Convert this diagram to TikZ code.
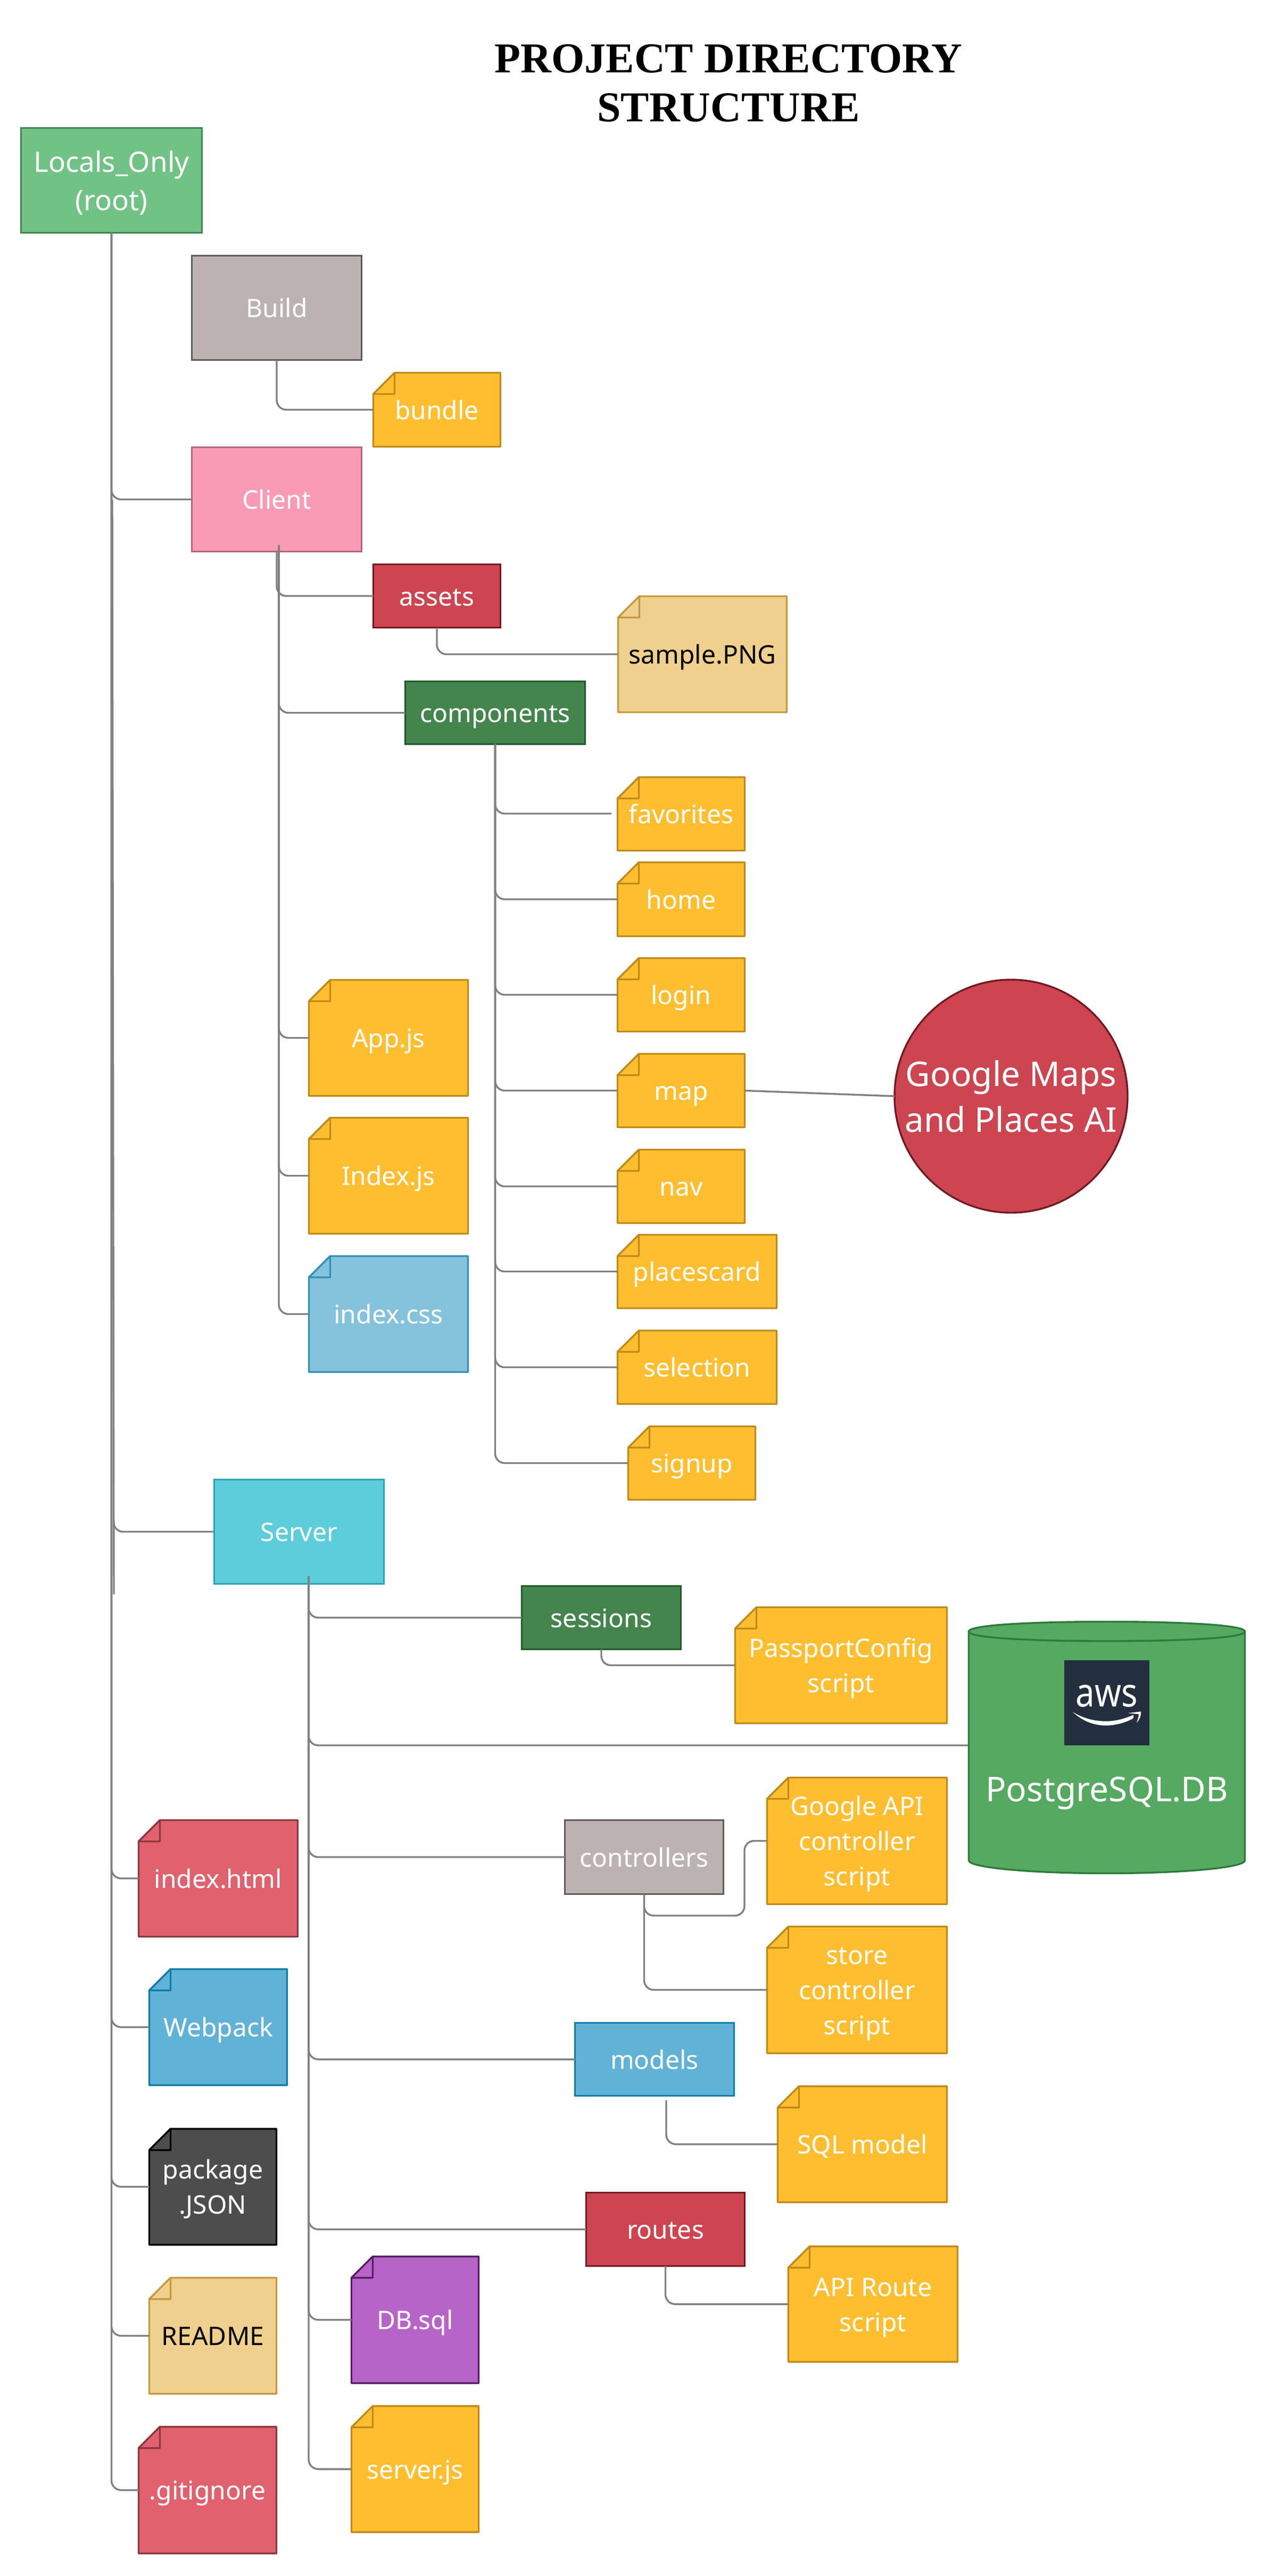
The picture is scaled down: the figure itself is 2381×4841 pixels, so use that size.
\documentclass[tikz,border=0pt]{standalone}
\usepackage{fontspec}
\setmainfont{Noto Sans}
\newfontfamily\titlefont{Liberation Serif}
\usetikzlibrary{calc}
\definecolor{connc}{HTML}{808080}
\newcommand\st{\rule{0pt}{24pt}\rule[-6pt]{0pt}{6pt}}
\newcommand\stb{\rule{0pt}{26pt}\rule[-6pt]{0pt}{6pt}}
\newcommand\stc{\rule{0pt}{31pt}\rule[-7pt]{0pt}{7pt}}
\tikzset{
  x=0.5pt,y=-0.5pt,
  boxbase/.style={rectangle,inner sep=0pt,outer sep=0pt,align=center,text=white,line width=1.7pt,font=\fontsize{24}{33}\selectfont},
  foldline/.style={line width=1.7pt,line join=round},
  conn/.style={draw=connc,line width=1.7pt,rounded corners=9pt},
  rootcol/.style={fill={rgb,255:red,113;green,194;blue,133},draw={rgb,255:red,63;green,134;blue,82}},
  graycol/.style={fill={rgb,255:red,188;green,178;blue,177},draw={rgb,255:red,94;green,90;blue,90}},
  pinkcol/.style={fill={rgb,255:red,249;green,155;blue,180},draw={rgb,255:red,183;green,99;blue,126}},
  redcol/.style={fill={rgb,255:red,204;green,69;blue,80},draw={rgb,255:red,115;green,24;blue,34}},
  tancol/.style={fill={rgb,255:red,240;green,208;blue,142},draw={rgb,255:red,196;green,154;blue,63}},
  dgreencol/.style={fill={rgb,255:red,68;green,132;blue,77},draw={rgb,255:red,30;green,90;blue,41}},
  yelcol/.style={fill={rgb,255:red,254;green,190;blue,47},draw={rgb,255:red,191;green,138;blue,26}},
  lbluecol/.style={fill={rgb,255:red,133;green,194;blue,219},draw={rgb,255:red,52;green,143;blue,179}},
  cyancol/.style={fill={rgb,255:red,93;green,205;blue,219},draw={rgb,255:red,43;green,164;blue,178}},
  bluecol/.style={fill={rgb,255:red,96;green,178;blue,214},draw={rgb,255:red,15;green,124;blue,171}},
  coralcol/.style={fill={rgb,255:red,225;green,97;blue,110},draw={rgb,255:red,139;green,56;blue,64}},
  darkcol/.style={fill={rgb,255:red,77;green,77;blue,77},draw=black},
  purplecol/.style={fill={rgb,255:red,183;green,100;blue,200},draw={rgb,255:red,86;green,31;blue,102}},
  dbcol/.style={fill={rgb,255:red,85;green,169;blue,97},draw={rgb,255:red,46;green,122;blue,60}},
}
% name, x0, y0, x1, y1, colour style, text
\newcommand{\bx}[7]{%
  \pgfmathsetmacro\bxcx{(#2+#4)/2}\pgfmathsetmacro\bxcy{(#3+#5)/2}%
  \pgfmathsetmacro\bxw{(#4-#2-3)*0.5}\pgfmathsetmacro\bxh{(#5-#3-3)*0.5}%
  \node[boxbase,#6,minimum width=\bxw pt,minimum height=\bxh pt] (#1) at (\bxcx,\bxcy) {#7};}
\newcommand{\nt}[7]{%
  \pgfmathsetmacro\bxcx{(#2+#4)/2}\pgfmathsetmacro\bxcy{(#3+#5)/2}%
  \pgfmathsetmacro\bxw{(#4-#2-3)*0.5}\pgfmathsetmacro\bxh{(#5-#3-3)*0.5}%
  \pgfmathsetmacro\xa{#2+1.5}\pgfmathsetmacro\ya{#3+1.5}%
  \pgfmathsetmacro\xb{#4-1.5}\pgfmathsetmacro\yb{#5-1.5}%
  \pgfmathsetmacro\fx{#2+41.5}\pgfmathsetmacro\fy{#3+41.5}%
  \draw[foldline,#6] (\xa,\fy) -- (\fx,\ya) -- (\xb,\ya) -- (\xb,\yb) -- (\xa,\yb) -- cycle;
  \draw[foldline,#6] (\xa,\fy) -- (\fx,\fy) -- (\fx,\ya) -- cycle;
  \node[boxbase,minimum width=\bxw pt,minimum height=\bxh pt] (#1) at (\bxcx,\bxcy) {#7};}
\begin{document}
\begin{tikzpicture}
\useasboundingbox (0,0) rectangle (2381,4841);
\fill[white] (0,0) rectangle (2381,4841);
% title
\node[inner sep=0pt,align=center,text=black,font=\titlefont\bfseries\fontsize{40}{46}\selectfont] (title) at (1369,156) {PROJECT DIRECTORY\\STRUCTURE};
% folders
\pgfmathsetmacro\rw{340*0.5}\pgfmathsetmacro\rh{197*0.5}
\node[boxbase,rootcol,minimum width=\rw pt,minimum height=\rh pt,font=\fontsize{26.5}{36}\selectfont] (root) at (209.5,339) {\stb Locals\_Only\\\stb (root)};
\bx{build}{359}{479}{681}{678}{graycol}{\st Build}
\nt{bundle}{700}{699}{942}{841}{yelcol}{\st bundle}
\bx{client}{359}{839}{681}{1038}{pinkcol}{\st Client}
\bx{assets}{700}{1059}{942}{1181}{redcol}{\st assets}
\nt{sample}{1160}{1119}{1480}{1340}{tancol}{\color{black}\st sample.PNG}
\bx{components}{760}{1279}{1101}{1400}{dgreencol}{\st components}
\nt{favorites}{1159}{1459}{1401}{1600}{yelcol}{\st favorites}
\nt{home}{1159}{1619}{1401}{1761}{yelcol}{\st home}
\nt{login}{1159}{1799}{1401}{1940}{yelcol}{\st login}
\nt{map}{1159}{1979}{1401}{2120}{yelcol}{\st map}
\nt{nav}{1159}{2159}{1401}{2300}{yelcol}{\st nav}
\nt{placescard}{1159}{2319}{1461}{2460}{yelcol}{\st placescard}
\nt{selection}{1159}{2499}{1461}{2640}{yelcol}{\st selection}
\nt{signup}{1179}{2679}{1421}{2820}{yelcol}{\st signup}
\nt{appjs}{579}{1840}{881}{2061}{yelcol}{\st App.js}
\nt{indexjs}{579}{2099}{881}{2320}{yelcol}{\st Index.js}
\nt{indexcss}{579}{2359}{881}{2580}{lbluecol}{\st index.css}
\node[boxbase,redcol,circle,minimum size=219pt,font=\fontsize{32}{43}\selectfont] (maps) at (1900,2060) {\stc Google Maps\\\stc and Places AI};
\bx{server}{401}{2779}{723}{2978}{cyancol}{\st Server}
\bx{sessions}{979}{2979}{1281}{3101}{dgreencol}{\st sessions}
\nt{passport}{1380}{3019}{1781}{3240}{yelcol}{\st PassportConfig\\\st script}
\bx{controllers}{1060}{3419}{1361}{3561}{graycol}{\st controllers}
\nt{google}{1440}{3339}{1781}{3580}{yelcol}{\st Google API\\\st controller\\\st script}
\nt{store}{1440}{3619}{1781}{3860}{yelcol}{\st store\\\st controller\\\st script}
\bx{models}{1079}{3800}{1381}{3940}{bluecol}{\st models}
\nt{sqlmodel}{1460}{3919}{1781}{4140}{yelcol}{\st SQL model}
\bx{routes}{1100}{4119}{1401}{4260}{redcol}{\st routes}
\nt{apiroute}{1480}{4220}{1801}{4440}{yelcol}{\st API Route\\\st script}
\nt{indexhtml}{259}{3419}{561}{3641}{coralcol}{\st index.html}
\nt{webpack}{279}{3699}{541}{3920}{bluecol}{\st Webpack}
\nt{package}{279}{3999}{521}{4220}{darkcol}{\st package\\\st .JSON}
\nt{readme}{279}{4279}{521}{4500}{tancol}{\color{black}\st README}
\nt{gitignore}{259}{4559}{521}{4800}{coralcol}{\st .gitignore}
\nt{dbsql}{659}{4239}{901}{4480}{purplecol}{\st DB.sql}
\nt{serverjs}{659}{4520}{901}{4760}{yelcol}{\st server.js}
% database cylinder
\draw[dbcol,line width=1.7pt] (1820.5,3066) -- (1820.5,3496) .. controls (1820.5,3511) and (1950,3520.5) .. (2080,3520.5) .. controls (2210,3520.5) and (2339.5,3511) .. (2339.5,3496) -- (2339.5,3066) -- cycle;
\draw[dbcol,line width=1.7pt] (1820.5,3066) .. controls (1820.5,3053) and (1950,3047.5) .. (2080,3047.5) .. controls (2210,3047.5) and (2339.5,3053) .. (2339.5,3066) .. controls (2339.5,3079) and (2210,3084) .. (2080,3084) .. controls (1950,3084) and (1820.5,3079) .. (1820.5,3066) -- cycle;
\node[rectangle,inner sep=0pt,outer sep=0pt,fill={rgb,255:red,35;green,47;blue,62},minimum size=80pt] (awsbox) at (2080,3200) {};
\node[inner sep=0pt,anchor=base,text=white,font=\fontsize{37.5}{40}\selectfont] (awstext) at (2080,3207) {\scalebox{0.85}[1]{aws}};
\begin{scope}[shift={(1980,3100)},x=0.1667pt,y=-0.1667pt]
  \fill[white] (108,352) .. controls (180,395) and (240,402) .. (290,404) .. controls (350,404) and (400,390) .. (450,368) .. controls (452,378) and (450,384) .. (448,388) .. controls (400,415) and (340,428) .. (290,428) .. controls (220,426) and (160,400) .. (108,352) -- cycle;
  \fill[white] (420,358) -- (492,349) .. controls (494,375) and (480,400) .. (468,413) .. controls (474,395) and (480,378) .. (480,364) -- cycle;
\end{scope}
\node[inner sep=0pt,text=white,font=\fontsize{32}{43}\selectfont] (dbtext) at (2080,3362) {\stc PostgreSQL.DB};
% free connector ends
\coordinate (rootb) at (211,939);
\coordinate (rootm) at (213.5,2860);
\coordinate (roote) at (214,2996);
\coordinate (ctrunk) at (524,1024);
\coordinate (strunk) at (580,2962);
\coordinate (favend) at (1149,1529);
\coordinate (dbin) at (1819,3280);
\coordinate (ctrlg) at (1399,3600);
\coordinate (modstart) at (1252,3947);
% root branches
\draw[conn] (root.south) |- (client.west);
\draw[conn] (root.south) |- (indexhtml.west);
\draw[conn] (root.south) |- (webpack.west);
\draw[conn] (root.south) |- (package.west);
\draw[conn] (root.south) |- (readme.west);
\draw[conn] (root.south) |- (gitignore.west);
\draw[conn] (rootm) |- (server.west);
\draw[conn] (rootb) -- (roote);
% build, client
\draw[conn] (build.south) |- (bundle.west);
\draw[conn] (client.south) |- (assets.west);
\draw[conn] (assets.south) |- (sample.west);
\draw[conn] (ctrunk) |- (components.west);
\draw[conn] (ctrunk) |- (appjs.west);
\draw[conn] (ctrunk) |- (indexjs.west);
\draw[conn] (ctrunk) |- (indexcss.west);
% components
\draw[conn] (components.south) |- (favend);
\draw[conn] (components.south) |- (home.west);
\draw[conn] (components.south) |- (login.west);
\draw[conn] (components.south) |- (map.west);
\draw[conn] (components.south) |- (nav.west);
\draw[conn] (components.south) |- (placescard.west);
\draw[conn] (components.south) |- (selection.west);
\draw[conn] (components.south) |- (signup.west);
\draw[conn] (map.east) -- (maps.west);
% server
\draw[conn] (strunk) |- (sessions.west);
\draw[conn] (strunk) |- (dbin);
\draw[conn] (strunk) |- (controllers.west);
\draw[conn] (strunk) |- (models.west);
\draw[conn] (strunk) |- (routes.west);
\draw[conn] (strunk) |- (dbsql.west);
\draw[conn] (strunk) |- (serverjs.west);
\draw[conn] (sessions.south) |- (passport.west);
\draw[conn] (controllers.south) |- (ctrlg) |- (google.west);
\draw[conn] (controllers.south) |- (store.west);
\draw[conn] (modstart) |- (sqlmodel.west);
\draw[conn] (routes.south) |- (apiroute.west);
\end{tikzpicture}
\end{document}
